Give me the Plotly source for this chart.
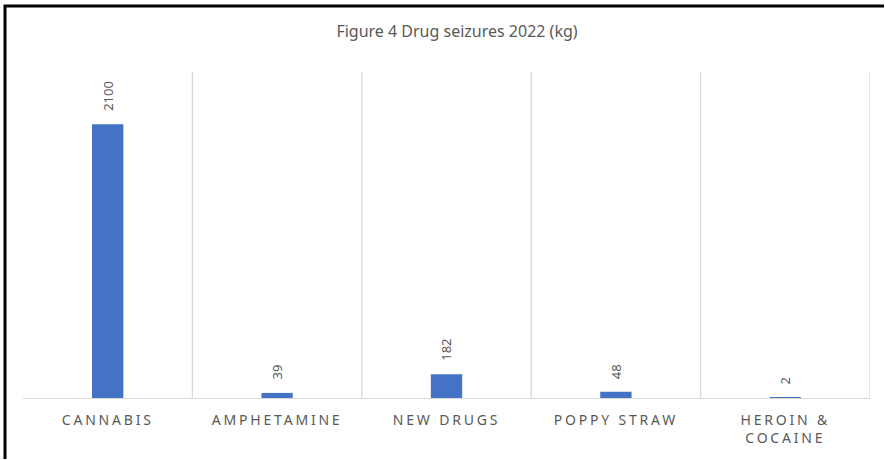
import plotly.graph_objects as go

# Drug seizures by type, 2022 (kg)
categories = ["CANNABIS", "AMPHETAMINE", "NEW DRUGS", "POPPY STRAW", "HEROIN &<br>COCAINE"]
seizures_kg = [2100, 39, 182, 48, 2]

BAR_BLUE = "#4472C4"
TEXT_GREY = "#595959"
GRID_GREY = "#D9D9D9"
FONT = "Noto Sans"

W, H = 885, 460
M_L, M_R, M_T, M_B = 23, 15, 72, 62

fig = go.Figure(
    go.Bar(
        x=list(range(len(categories))),
        y=seizures_kg,
        width=0.185,
        marker=dict(color=BAR_BLUE, line=dict(width=0)),
        hoverinfo="skip",
    )
)

# value labels, rotated, sitting just above each bar
for i, v in enumerate(seizures_kg):
    fig.add_annotation(
        x=i, y=v, xref="x", yref="y",
        text=str(v), textangle=-90,
        showarrow=False, xanchor="center", yanchor="bottom",
        yshift=11,
        font=dict(family=FONT, size=13, color=TEXT_GREY),
    )

# vertical gridlines at the category boundaries
for i in range(len(categories)):
    fig.add_shape(
        type="line", xref="x", yref="paper",
        x0=i + 0.5, x1=i + 0.5, y0=0, y1=1,
        line=dict(color=GRID_GREY, width=1.3),
        layer="below",
    )

# frame along the top and left edges of the chart area
px_x = lambda p: (p - M_L) / (W - M_L - M_R)
px_y = lambda p: (H - M_B - p) / (H - M_T - M_B)
fig.add_shape(type="path", xref="paper", yref="paper",
              path=f"M {px_x(W - 1)},{px_y(6)} L {px_x(5)},{px_y(6)} L {px_x(5)},{px_y(H - 1)}",
              line=dict(color="black", width=3))

fig.update_layout(
    width=W, height=H,
    margin=dict(l=M_L, r=M_R, t=M_T, b=M_B),
    paper_bgcolor="white", plot_bgcolor="white",
    showlegend=False,
    title=dict(
        text="Figure 4 Drug seizures 2022 (kg)",
        x=457 / W, xanchor="center", y=1 - 31 / H, yanchor="middle",
        font=dict(family=FONT, size=16, color=TEXT_GREY),
    ),
    xaxis=dict(
        tickmode="array",
        tickvals=list(range(len(categories))),
        ticktext=categories,
        range=[-0.5, len(categories) - 0.5],
        showgrid=False, zeroline=False,
        showline=True, linecolor=GRID_GREY, linewidth=1.3,
        ticks="", ticklabelstandoff=9,
        tickfont=dict(family=FONT, size=14, color=TEXT_GREY),
        fixedrange=True,
    ),
    yaxis=dict(
        range=[0, 2500], visible=False, showgrid=False, zeroline=False,
        fixedrange=True,
    ),
)

# spaced-out capitals on the category labels
post = """
document.querySelectorAll('.xtick text').forEach(function(t){
  t.style.letterSpacing = '2.8px';
});
"""

fig.write_html("out.html", post_script=post, config={"displayModeBar": False})
